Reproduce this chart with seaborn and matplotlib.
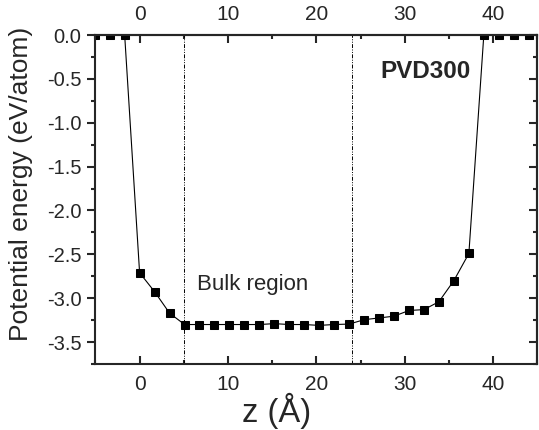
import numpy as np
import pandas as pd
import matplotlib
matplotlib.use("Agg")
import matplotlib.pyplot as plt
from matplotlib.ticker import MultipleLocator, FixedLocator
import seaborn as sns

# layer positions (Angstrom) and potential energy per atom (eV)
z = [-5.08, -3.39, -1.69, 0.0, 1.69, 3.39, 5.08, 6.77, 8.47, 10.16, 11.85,
     13.54, 15.24, 16.93, 18.62, 20.32, 22.01, 23.70, 25.40, 27.09, 28.78,
     30.48, 32.17, 33.86, 35.55, 37.25, 38.94, 40.63, 42.33, 44.02, 45.71]
energy = [0.0, 0.0, 0.0, -2.71, -2.925, -3.17, -3.30, -3.30, -3.30, -3.30, -3.30,
          -3.30, -3.29, -3.30, -3.30, -3.31, -3.30, -3.295, -3.245, -3.225, -3.205,
          -3.14, -3.13, -3.04, -2.80, -2.49, 0.0, 0.0, 0.0, 0.0, 0.0]
bulk_bounds = [5, 24]
xticks = [0, 10, 20, 30, 40]

df = pd.DataFrame({"z": z, "E": energy})

sns.set_style("ticks")
plt.rcParams['font.family'] = ['Liberation Sans', 'DejaVu Sans']
plt.rcParams['axes.unicode_minus'] = False

fig = plt.figure(figsize=(5.39, 4.30), dpi=100)
ax = fig.add_axes([0.177, 0.1535, 0.82, 0.765])

sns.lineplot(data=df, x="z", y="E", sort=False, ax=ax, color="black",
             linewidth=0.8, marker="s", markersize=5.2,
             markeredgecolor="black", markerfacecolor="black")

for b in bulk_bounds:
    ax.axvline(b, color="black", linestyle=(0, (4, 1.5, 1, 1.5, 1, 1.5)), linewidth=0.7)

ax.set_xlim(-5, 45)
ax.set_ylim(-3.75, 0.0)
ax.xaxis.set_major_locator(FixedLocator(xticks))
ax.xaxis.set_minor_locator(MultipleLocator(5))
ax.yaxis.set_major_locator(MultipleLocator(0.5))
ax.yaxis.set_minor_locator(MultipleLocator(0.25))

ax.text(6.5, -2.84, "Bulk region", fontsize=16, ha="left", va="center")
ax.text(32.3, -0.42, "PVD300", fontsize=17.5, fontweight="bold", ha="center", va="center")

ax.set_xlabel("z (Å)", fontsize=23.5, labelpad=-1, x=0.41)
ax.set_ylabel("Potential energy (eV/atom)", fontsize=19, labelpad=10, y=0.547)

for s in ax.spines.values():
    s.set_linewidth(1.5)
    s.set_visible(True)

ax.tick_params(axis="x", which="both", direction="in", labelsize=15, width=1.5, pad=8)
ax.tick_params(axis="x", which="major", length=6)
ax.tick_params(axis="x", which="minor", length=3)
ax.tick_params(axis="y", which="both", direction="out", labelsize=14.5, width=1.5, pad=4)
ax.tick_params(axis="y", which="major", length=6)
ax.tick_params(axis="y", which="minor", length=3)

top = ax.secondary_xaxis("top")
top.xaxis.set_major_locator(FixedLocator(xticks))
top.xaxis.set_minor_locator(MultipleLocator(5))
top.tick_params(which="both", direction="in", labelsize=15, width=1.5, pad=8)
top.tick_params(which="major", length=6)
top.tick_params(which="minor", length=3)
top.spines["top"].set_linewidth(1.5)

right = ax.secondary_yaxis("right")
right.yaxis.set_major_locator(MultipleLocator(0.5))
right.yaxis.set_minor_locator(MultipleLocator(0.25))
right.tick_params(which="both", direction="in", labelright=False, width=1.5)
right.tick_params(which="major", length=6)
right.tick_params(which="minor", length=3)
right.spines["right"].set_linewidth(1.5)

fig.savefig("out.png", dpi=100)
